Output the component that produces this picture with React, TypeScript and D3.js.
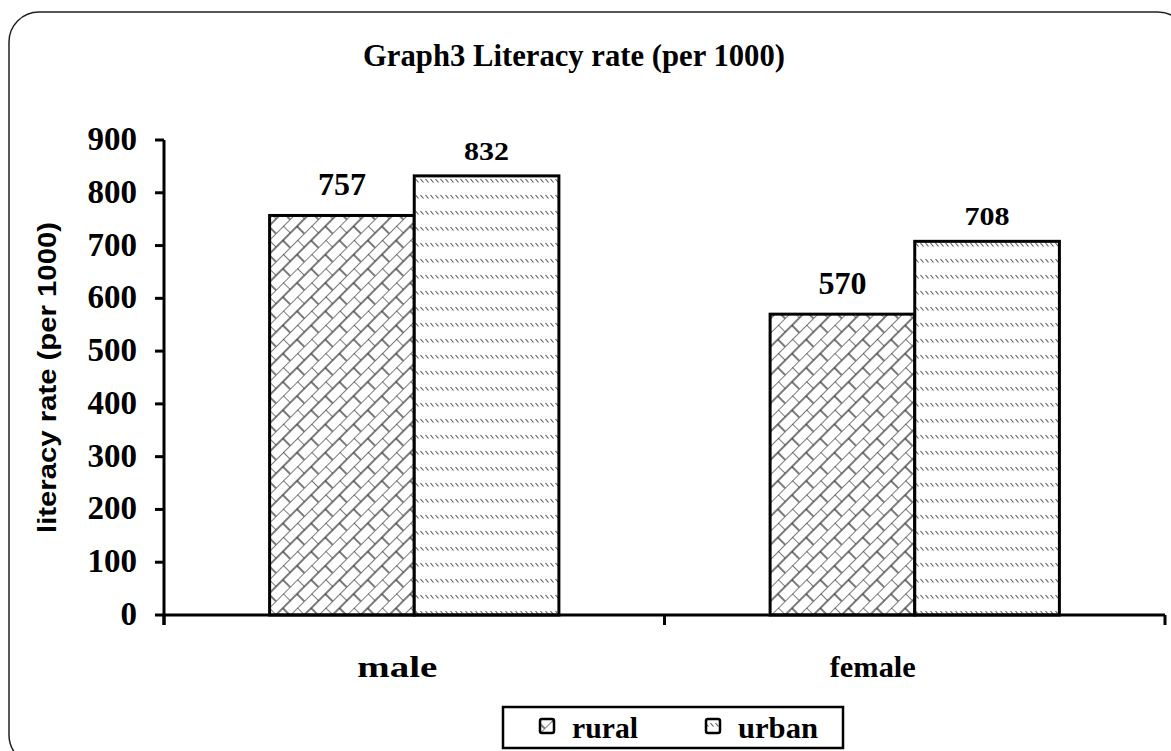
import React from "react";
import * as d3 from "d3";

const categories = ["male", "female"];
const series = ["rural", "urban"];
const rural = [757, 570];
const urban = [832, 708];
const yTicks = [0, 100, 200, 300, 400, 500, 600, 700, 800, 900];
const title = "Graph3 Literacy rate (per 1000)";
const yLabel = "literacy rate (per 1000)";

const W = 1171;
const H = 751;
const plot = { left: 164, right: 1165, top: 140, bottom: 615 };
const serif = "Liberation Serif, Times New Roman, Times, serif";
const sans = "Liberation Sans, Arial, Helvetica, sans-serif";

export default function App() {
  const x0 = d3.scaleBand<string>().domain(categories).range([plot.left, plot.right]).padding(0);
  const bw = x0.bandwidth();
  const groupW = bw * 0.578;
  const x1 = d3
    .scaleBand<string>()
    .domain(series)
    .range([(bw - groupW) / 2, (bw + groupW) / 2])
    .padding(0);
  const y = d3.scaleLinear().domain([0, 900]).range([plot.bottom, plot.top]);
  const values: Record<string, number[]> = { rural, urban };
  const fills: Record<string, string> = { rural: "url(#brick)", urban: "url(#dash)" };
  const labelStyle: Record<string, { size: number; off: number; len: number }> = {
    rural: { size: 32, off: 20, len: 48 },
    urban: { size: 25, off: 16, len: 45 },
  };
  const catShift = [-17, -42];
  const catLen = [80, 86];
  const legendX = [540, 706];
  const legendLen = [66, 80];

  return (
    <svg width={W} height={H} style={{ position: "absolute", left: 0, top: 0, background: "#fff" }}>
      <defs>
        <pattern id="brick" patternUnits="userSpaceOnUse" width={20} height={20} patternTransform="rotate(-45)">
          <rect width={20} height={20} fill="#fff" />
          <line x1={0} y1={0} x2={20} y2={0} stroke="#333" strokeWidth={1.3} />
          <line x1={0} y1={10} x2={20} y2={10} stroke="#333" strokeWidth={1.3} />
          <line x1={0} y1={0} x2={0} y2={10} stroke="#333" strokeWidth={1.3} />
          <line x1={10} y1={10} x2={10} y2={20} stroke="#333" strokeWidth={1.3} />
        </pattern>
        <pattern id="dash" patternUnits="userSpaceOnUse" width={5} height={16}>
          <rect width={5} height={16} fill="#fff" />
          <line x1={0.5} y1={3} x2={3.5} y2={6.5} stroke="#555" strokeWidth={1.1} />
        </pattern>
      </defs>
      <rect x={9} y={12} width={1179} height={753} rx={30} ry={30} fill="#fff" stroke="#222" strokeWidth={1.5} />
      <text
        x={574}
        y={66}
        textAnchor="middle"
        style={{ fontFamily: serif, fontWeight: "bold", fontSize: "31px" }}
        textLength={422}
        lengthAdjust="spacingAndGlyphs"
      >
        {title}
      </text>
      <text
        transform={`translate(56, ${(plot.top + plot.bottom) / 2}) rotate(-90)`}
        textAnchor="middle"
        style={{ fontFamily: sans, fontWeight: "bold", fontSize: "26px" }}
        textLength={311}
        lengthAdjust="spacingAndGlyphs"
      >
        {yLabel}
      </text>
      {yTicks.map((t) => (
        <g key={t}>
          <line x1={plot.left - 9} x2={plot.left} y1={y(t)} y2={y(t)} stroke="#000" strokeWidth={3} />
          <text
            x={137}
            y={y(t) + 10}
            textAnchor="end"
            style={{ fontFamily: serif, fontWeight: "bold", fontSize: "33px" }}
          >
            {t}
          </text>
        </g>
      ))}
      {categories.map((c, i) => (
        <g key={c}>
          {series.map((s) => {
            const v = values[s][i];
            const bx = (x0(c) as number) + (x1(s) as number);
            const ls = labelStyle[s];
            return (
              <g key={s}>
                <rect
                  x={bx}
                  y={y(v)}
                  width={x1.bandwidth()}
                  height={y(0) - y(v)}
                  fill={fills[s]}
                  stroke="#000"
                  strokeWidth={3}
                />
                <text
                  x={bx + x1.bandwidth() / 2}
                  y={y(v) - ls.off}
                  textAnchor="middle"
                  style={{ fontFamily: serif, fontWeight: "bold", fontSize: `${ls.size}px` }}
                  textLength={ls.len}
                  lengthAdjust="spacingAndGlyphs"
                >
                  {v}
                </text>
              </g>
            );
          })}
          <text
            x={(x0(c) as number) + bw / 2 + catShift[i]}
            y={677}
            textAnchor="middle"
            style={{ fontFamily: serif, fontWeight: "bold", fontSize: "29px" }}
            textLength={catLen[i]}
            lengthAdjust="spacingAndGlyphs"
          >
            {c}
          </text>
        </g>
      ))}
      <line x1={plot.left} x2={plot.left} y1={plot.top} y2={plot.bottom + 10} stroke="#000" strokeWidth={3} />
      <line x1={plot.left} x2={plot.right} y1={plot.bottom} y2={plot.bottom} stroke="#000" strokeWidth={3} />
      {[...categories.map((c) => x0(c) as number), plot.right].map((tx, i) => (
        <line key={i} x1={tx} x2={tx} y1={plot.bottom} y2={plot.bottom + 10} stroke="#000" strokeWidth={3} />
      ))}
      <rect x={503} y={707} width={340} height={41} fill="#fff" stroke="#000" strokeWidth={2.5} />
      {series.map((s, i) => (
        <g key={s}>
          <rect x={legendX[i]} y={719} width={14} height={14} rx={2} fill={fills[s]} stroke="#000" strokeWidth={2.5} />
          <text
            x={legendX[i] + 32}
            y={738}
            style={{ fontFamily: serif, fontWeight: "bold", fontSize: "29px" }}
            textLength={legendLen[i]}
            lengthAdjust="spacingAndGlyphs"
          >
            {s}
          </text>
        </g>
      ))}
    </svg>
  );
}
